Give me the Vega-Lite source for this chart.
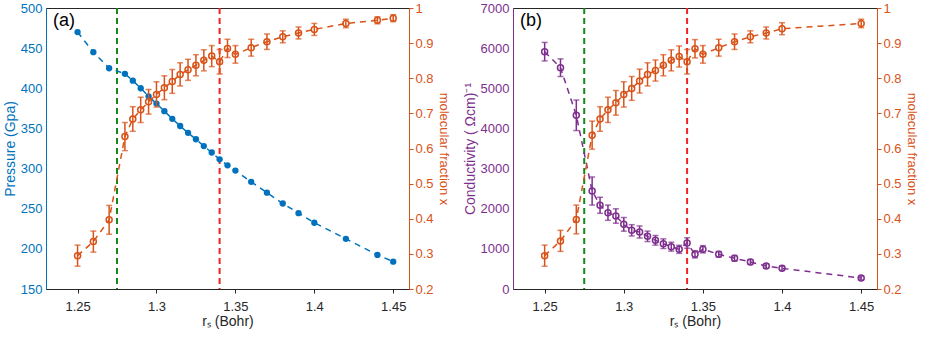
{
  "$schema": "https://vega.github.io/schema/vega-lite/v6.json",
  "padding": {"left": 2, "top": 1, "right": 0, "bottom": 0},
  "spacing": 104,
  "bounds": "flush",
  "config": {
    "font": "Liberation Sans",
    "view": {"stroke": "#262626", "strokeWidth": 1},
    "axis": {"grid": false, "labelFontSize": 13, "titleFontSize": 14, "titleFontWeight": "normal", "labelFont": "Liberation Sans", "titleFont": "Liberation Sans", "domainWidth": 1},
    "title": {"font": "Liberation Sans"}
  },
  "datasets": {
    "vlines": [
      {"rs": 1.275, "kind": "green"},
      {"rs": 1.34, "kind": "red"}
    ],
    "a": [
      {"rs": 1.25, "p": 470, "x": 0.295, "xe": 0.03},
      {"rs": 1.26, "p": 445, "x": 0.335, "xe": 0.03},
      {"rs": 1.27, "p": 425, "x": 0.397, "xe": 0.041},
      {"rs": 1.28, "p": 418, "x": 0.634, "xe": 0.04},
      {"rs": 1.285, "p": 409.5, "x": 0.684, "xe": 0.035},
      {"rs": 1.29, "p": 400, "x": 0.71, "xe": 0.036},
      {"rs": 1.295, "p": 390, "x": 0.733, "xe": 0.035},
      {"rs": 1.3, "p": 381, "x": 0.754, "xe": 0.036},
      {"rs": 1.305, "p": 371.5, "x": 0.773, "xe": 0.034},
      {"rs": 1.31, "p": 362, "x": 0.791, "xe": 0.034},
      {"rs": 1.315, "p": 353, "x": 0.811, "xe": 0.033},
      {"rs": 1.32, "p": 344.5, "x": 0.824, "xe": 0.03},
      {"rs": 1.325, "p": 336.5, "x": 0.837, "xe": 0.03},
      {"rs": 1.33, "p": 328, "x": 0.851, "xe": 0.03},
      {"rs": 1.335, "p": 320, "x": 0.863, "xe": 0.03},
      {"rs": 1.34, "p": 311.5, "x": 0.847, "xe": 0.035},
      {"rs": 1.345, "p": 304, "x": 0.885, "xe": 0.026},
      {"rs": 1.35, "p": 297.5, "x": 0.868, "xe": 0.025},
      {"rs": 1.36, "p": 283.5, "x": 0.887, "xe": 0.024},
      {"rs": 1.37, "p": 270, "x": 0.904, "xe": 0.022},
      {"rs": 1.38, "p": 256.5, "x": 0.918, "xe": 0.017},
      {"rs": 1.39, "p": 244.5, "x": 0.929, "xe": 0.017},
      {"rs": 1.4, "p": 232.5, "x": 0.939, "xe": 0.017},
      {"rs": 1.42, "p": 212.5, "x": 0.956, "xe": 0.012},
      {"rs": 1.44, "p": 192.5, "x": 0.965, "xe": 0.01},
      {"rs": 1.45, "p": 184, "x": 0.971, "xe": 0.01}
    ],
    "b": [
      {"rs": 1.25, "c": 5912, "ce": 230, "x": 0.295, "xe": 0.03},
      {"rs": 1.26, "c": 5513, "ce": 220, "x": 0.337, "xe": 0.03},
      {"rs": 1.27, "c": 4327, "ce": 380, "x": 0.398, "xe": 0.041},
      {"rs": 1.28, "c": 2441, "ce": 350, "x": 0.638, "xe": 0.04},
      {"rs": 1.285, "c": 2085, "ce": 200, "x": 0.684, "xe": 0.035},
      {"rs": 1.29, "c": 1901, "ce": 190, "x": 0.71, "xe": 0.036},
      {"rs": 1.295, "c": 1818, "ce": 180, "x": 0.73, "xe": 0.035},
      {"rs": 1.3, "c": 1611, "ce": 170, "x": 0.754, "xe": 0.036},
      {"rs": 1.305, "c": 1462, "ce": 140, "x": 0.771, "xe": 0.034},
      {"rs": 1.31, "c": 1420, "ce": 150, "x": 0.792, "xe": 0.034},
      {"rs": 1.315, "c": 1312, "ce": 130, "x": 0.811, "xe": 0.033},
      {"rs": 1.32, "c": 1213, "ce": 120, "x": 0.822, "xe": 0.03},
      {"rs": 1.325, "c": 1129, "ce": 120, "x": 0.837, "xe": 0.03},
      {"rs": 1.33, "c": 1054, "ce": 110, "x": 0.851, "xe": 0.03},
      {"rs": 1.335, "c": 988, "ce": 100, "x": 0.862, "xe": 0.03},
      {"rs": 1.34, "c": 1146, "ce": 130, "x": 0.847, "xe": 0.035},
      {"rs": 1.345, "c": 864, "ce": 90, "x": 0.884, "xe": 0.026},
      {"rs": 1.35, "c": 990, "ce": 90, "x": 0.868, "xe": 0.025},
      {"rs": 1.36, "c": 864, "ce": 70, "x": 0.887, "xe": 0.024},
      {"rs": 1.37, "c": 764, "ce": 70, "x": 0.904, "xe": 0.022},
      {"rs": 1.38, "c": 673, "ce": 60, "x": 0.918, "xe": 0.017},
      {"rs": 1.39, "c": 573, "ce": 55, "x": 0.929, "xe": 0.017},
      {"rs": 1.4, "c": 515, "ce": 50, "x": 0.941, "xe": 0.017},
      {"rs": 1.45, "c": 274, "ce": 45, "x": 0.956, "xe": 0.012}
    ]
  },
  "hconcat": [
    {
      "width": 363,
      "height": 281,
      "title": {"text": "(a)", "anchor": "start", "frame": "group", "orient": "top", "offset": -28, "dx": 7, "fontSize": 18, "fontWeight": "normal", "color": "#000000"},
      "encoding": {
        "x": {"field": "rs", "type": "quantitative", "scale": {"domain": [1.23, 1.46], "nice": false, "zero": false},
          "axis": {"title": "rₛ (Bohr)", "values": [1.25, 1.3, 1.35, 1.4, 1.45], "format": "~g", "labelPadding": 7, "tickSize": 4, "domainColor": "#262626", "tickColor": "#262626", "labelColor": "#262626", "titleColor": "#262626", "titlePadding": 1}}
      },
      "layer": [
        {"data": {"name": "vlines"}, "transform": [{"filter": "datum.kind == 'green'"}], "mark": {"type": "rule", "color": "#16871a", "strokeDash": [6, 4], "strokeWidth": 2}},
        {"data": {"name": "vlines"}, "transform": [{"filter": "datum.kind == 'red'"}], "mark": {"type": "rule", "color": "#f02424", "strokeDash": [6, 4], "strokeWidth": 2}},
        {
          "data": {"name": "a"},
          "encoding": {"y": {"field": "p", "type": "quantitative", "scale": {"domain": [150, 500], "nice": false, "zero": false},
            "axis": {"orient": "left", "title": "Pressure (Gpa)", "values": [150, 200, 250, 300, 350, 400, 450, 500], "ticks": false, "labelPadding": 4, "titlePadding": 3, "domainColor": "#0072BD", "labelColor": "#0072BD", "titleColor": "#0072BD"}}},
          "layer": [
            {"mark": {"type": "line", "color": "#0072BD", "strokeWidth": 1.5, "strokeDash": [6, 5]}},
            {"mark": {"type": "point", "shape": "circle", "filled": true, "color": "#0072BD", "size": 40, "opacity": 1}}
          ]
        },
        {
          "data": {"name": "a"},
          "encoding": {"y": {"field": "x", "type": "quantitative", "scale": {"domain": [0.2, 1], "nice": false, "zero": false},
            "axis": {"orient": "right", "title": "molecular fraction x", "titleFontSize": 13, "values": [0.2, 0.3, 0.4, 0.5, 0.6, 0.7, 0.8, 0.9, 1], "format": ".1~f", "tickSize": 4, "labelPadding": 2, "titlePadding": 3, "domainColor": "#D95319", "tickColor": "#D95319", "labelColor": "#D95319", "titleColor": "#D95319"}}},
          "layer": [
            {"mark": {"type": "line", "color": "#D95319", "strokeWidth": 1.5, "strokeDash": [6, 5]}},
            {"mark": {"type": "errorbar", "ticks": {"size": 6}, "color": "#D95319", "thickness": 1.5}, "encoding": {"yError": {"field": "xe"}}},
            {"mark": {"type": "point", "shape": "circle", "filled": false, "color": "#D95319", "size": 36, "strokeWidth": 1.5, "opacity": 1}}
          ]
        }
      ],
      "resolve": {"scale": {"y": "independent"}}
    },
    {
      "width": 364,
      "height": 281,
      "title": {"text": "(b)", "anchor": "start", "frame": "group", "orient": "top", "offset": -28, "dx": 7, "fontSize": 18, "fontWeight": "normal", "color": "#000000"},
      "encoding": {
        "x": {"field": "rs", "type": "quantitative", "scale": {"domain": [1.23, 1.46], "nice": false, "zero": false},
          "axis": {"title": "rₛ (Bohr)", "values": [1.25, 1.3, 1.35, 1.4, 1.45], "format": "~g", "labelPadding": 7, "tickSize": 4, "domainColor": "#262626", "tickColor": "#262626", "labelColor": "#262626", "titleColor": "#262626", "titlePadding": 1}}
      },
      "layer": [
        {"data": {"name": "vlines"}, "transform": [{"filter": "datum.kind == 'green'"}], "mark": {"type": "rule", "color": "#16871a", "strokeDash": [6, 4], "strokeWidth": 2}},
        {"data": {"name": "vlines"}, "transform": [{"filter": "datum.kind == 'red'"}], "mark": {"type": "rule", "color": "#f02424", "strokeDash": [6, 4], "strokeWidth": 2}},
        {
          "data": {"name": "b"},
          "encoding": {"y": {"field": "c", "type": "quantitative", "scale": {"domain": [0, 7000], "nice": false, "zero": false},
            "axis": {"orient": "left", "title": "Conductivity ( Ωcm)⁻¹", "values": [0, 1000, 2000, 3000, 4000, 5000, 6000, 7000], "format": "d", "ticks": false, "labelPadding": 4, "titlePadding": 3, "domainColor": "#7E2F8E", "labelColor": "#7E2F8E", "titleColor": "#7E2F8E"}}},
          "layer": [
            {"mark": {"type": "line", "color": "#7E2F8E", "strokeWidth": 1.5, "strokeDash": [6, 5]}},
            {"mark": {"type": "errorbar", "ticks": {"size": 6}, "color": "#7E2F8E", "thickness": 1.5}, "encoding": {"yError": {"field": "ce"}}},
            {"mark": {"type": "point", "shape": "circle", "filled": false, "color": "#7E2F8E", "size": 36, "strokeWidth": 1.5, "opacity": 1}}
          ]
        },
        {
          "data": {"name": "b"},
          "encoding": {"y": {"field": "x", "type": "quantitative", "scale": {"domain": [0.2, 1], "nice": false, "zero": false},
            "axis": {"orient": "right", "title": "molecular fraction x", "titleFontSize": 13, "values": [0.2, 0.3, 0.4, 0.5, 0.6, 0.7, 0.8, 0.9, 1], "format": ".1~f", "tickSize": 4, "labelPadding": 2, "titlePadding": 3, "domainColor": "#D95319", "tickColor": "#D95319", "labelColor": "#D95319", "titleColor": "#D95319"}}},
          "layer": [
            {"mark": {"type": "line", "color": "#D95319", "strokeWidth": 1.5, "strokeDash": [6, 5]}},
            {"mark": {"type": "errorbar", "ticks": {"size": 6}, "color": "#D95319", "thickness": 1.5}, "encoding": {"yError": {"field": "xe"}}},
            {"mark": {"type": "point", "shape": "circle", "filled": false, "color": "#D95319", "size": 36, "strokeWidth": 1.5, "opacity": 1}}
          ]
        }
      ],
      "resolve": {"scale": {"y": "independent"}}
    }
  ]
}
